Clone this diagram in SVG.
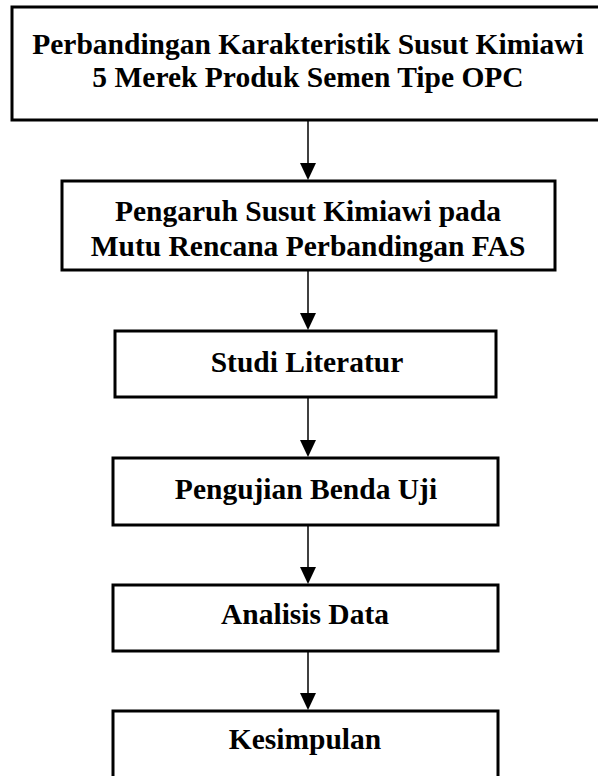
<svg xmlns="http://www.w3.org/2000/svg" width="598" height="776" viewBox="0 0 598 776">
  <defs>
    <style>
      .box { fill: #fff; stroke: #000; stroke-width: 3; }
      .label { font-family: "Liberation Serif", "Times New Roman", serif; font-weight: bold; font-size: 29.5px; fill: #000; text-anchor: middle; }
      .conn { stroke: #000; stroke-width: 1.5; fill: none; }
      .head { fill: #000; }
    </style>
  </defs>
  <rect width="598" height="776" fill="#fff"/>

  <g id="node-perbandingan">
    <rect class="box" x="12" y="7" width="600" height="113"/>
    <text class="label" x="308" y="54">Perbandingan Karakteristik Susut Kimiawi</text>
    <text class="label" x="308" y="87">5 Merek Produk Semen Tipe OPC</text>
  </g>

  <g id="node-pengaruh">
    <rect class="box" x="62" y="181" width="493" height="89"/>
    <text class="label" x="308" y="221">Pengaruh Susut Kimiawi pada</text>
    <text class="label" x="308" y="256">Mutu Rencana Perbandingan FAS</text>
  </g>

  <g id="node-studi">
    <rect class="box" x="115" y="331" width="381" height="66"/>
    <text class="label" x="307" y="372">Studi Literatur</text>
  </g>

  <g id="node-pengujian">
    <rect class="box" x="113" y="458" width="385" height="67"/>
    <text class="label" x="306" y="499">Pengujian Benda Uji</text>
  </g>

  <g id="node-analisis">
    <rect class="box" x="113" y="585" width="385" height="66"/>
    <text class="label" x="305" y="624">Analisis Data</text>
  </g>

  <g id="node-kesimpulan">
    <rect class="box" x="113" y="711" width="385" height="70"/>
    <text class="label" x="305" y="749">Kesimpulan</text>
  </g>

  <g id="connectors">
    <line class="conn" x1="308" y1="120" x2="308" y2="165"/>
    <path class="head" d="M300,163 L316,163 L308,180 Z"/>
    <line class="conn" x1="308" y1="270" x2="308" y2="315"/>
    <path class="head" d="M300,313 L316,313 L308,330 Z"/>
    <line class="conn" x1="308" y1="397" x2="308" y2="442"/>
    <path class="head" d="M300,440 L316,440 L308,457 Z"/>
    <line class="conn" x1="308" y1="525" x2="308" y2="569"/>
    <path class="head" d="M300,567 L316,567 L308,584 Z"/>
    <line class="conn" x1="308" y1="651" x2="308" y2="695"/>
    <path class="head" d="M300,693 L316,693 L308,710 Z"/>
  </g>
</svg>
